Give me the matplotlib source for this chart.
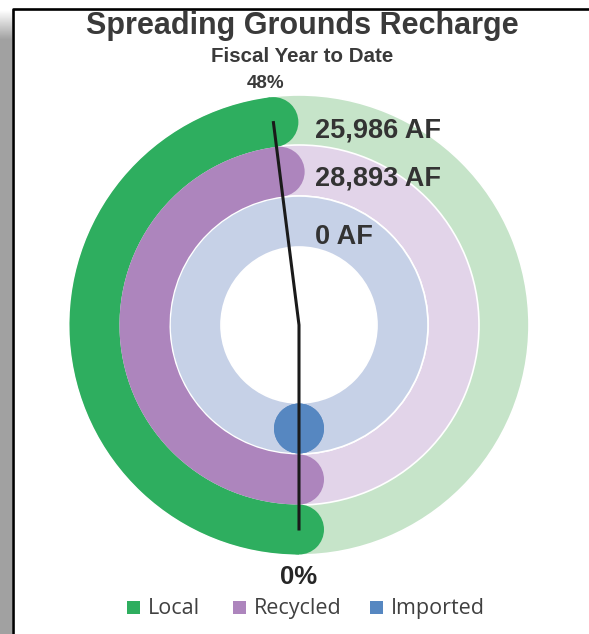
import numpy as np
import matplotlib
matplotlib.use('Agg')
import matplotlib.pyplot as plt
from matplotlib.patches import Wedge, Circle, Rectangle

# data
categories = ['Local', 'Recycled', 'Imported']
volumes = ['25,986 AF', '28,893 AF', '0 AF']
fractions = [0.48, 0.48, 0.0]          # share of the ring filled, from the bottom clockwise
needle_pct = 48

dark = ['#2EAE5F', '#AD85BD', '#5687C1']
light = ['#C6E4C9', '#E2D4E9', '#C6D1E7']

W, H = 589, 634
cx, cy = 299, H - 325
r_out = [230, 180, 129]
width = 51
label_y = [130, 178, 237]

fig = plt.figure(figsize=(W / 100, H / 100), dpi=100)
ax = fig.add_axes([0, 0, 1, 1])
ax.set_xlim(0, W)
ax.set_ylim(0, H)
ax.set_aspect('equal')
ax.axis('off')

# grey shadow + frame
grad = np.linspace(1, 0, 40).reshape(-1, 1)
ax.imshow(np.dstack([0.63 + 0.37 * grad] * 3), extent=[0, 12, H - 40, H - 10], aspect='auto', zorder=0)
ax.add_patch(Rectangle((0, 0), 12, H - 40, color='#A1A1A1', lw=0, zorder=0))
ax.plot([13, 13, W], [0, H - 9, H - 9], color='black', lw=1.9, zorder=5, solid_capstyle='butt')


def ang(f):
    return -90 - 360 * f


for i, cat in enumerate(categories):
    ro = r_out[i]
    rm = ro - width / 2
    ax.add_patch(Wedge((cx, cy), ro, 0, 360, width=width, facecolor=light[i],
                       edgecolor='white', lw=1.2, zorder=1))
    f = fractions[i]
    if f > 0:
        ax.add_patch(Wedge((cx, cy), ro - 0.5, ang(f), ang(0), width=width - 1,
                           facecolor=dark[i], edgecolor='none', zorder=2))
    for a in (ang(0), ang(f)):
        t = np.radians(a)
        ax.add_patch(Circle((cx + rm * np.cos(t), cy + rm * np.sin(t)), width / 2 - 0.5,
                            facecolor=dark[i], edgecolor='none', zorder=2))
    ax.text(315, H - label_y[i], volumes[i], fontsize=19.5, fontweight='bold',
            color='#333333', ha='left', va='center', family='Liberation Sans', zorder=4)

# needle
rn = 204
t0, t1 = np.radians(ang(0)), np.radians(ang(needle_pct / 100))
ax.plot([cx + rn * np.cos(t0), cx, cx + rn * np.cos(t1)],
        [cy + rn * np.sin(t0), cy, cy + rn * np.sin(t1)],
        color='#1A1A1A', lw=2.2, zorder=3, solid_joinstyle='miter')

ax.text(302, H - 26, 'Spreading Grounds Recharge', fontsize=22, fontweight='bold',
        color='#3A3A3A', ha='center', va='center', family='Liberation Sans')
ax.text(302, H - 57, 'Fiscal Year to Date', fontsize=14.8, fontweight='bold',
        color='#3A3A3A', ha='center', va='center', family='Liberation Sans')
ax.text(266, H - 84, f'{needle_pct}%', fontsize=13.5, fontweight='bold',
        color='#3A3A3A', ha='center', va='center', family='Liberation Sans')
ax.text(299, H - 577, '0%', fontsize=18.5, fontweight='bold',
        color='#262626', ha='center', va='center', family='Liberation Sans')

# legend
leg_x = [127, 233, 370]
for i, cat in enumerate(categories):
    ax.add_patch(Rectangle((leg_x[i], H - 614), 13, 13, color=dark[i], lw=0))
    ax.text(leg_x[i] + 21, H - 614, cat, fontsize=15.5, color='#404040',
            ha='left', va='baseline', family='Open Sans')

fig.savefig('out.png', dpi=100)
